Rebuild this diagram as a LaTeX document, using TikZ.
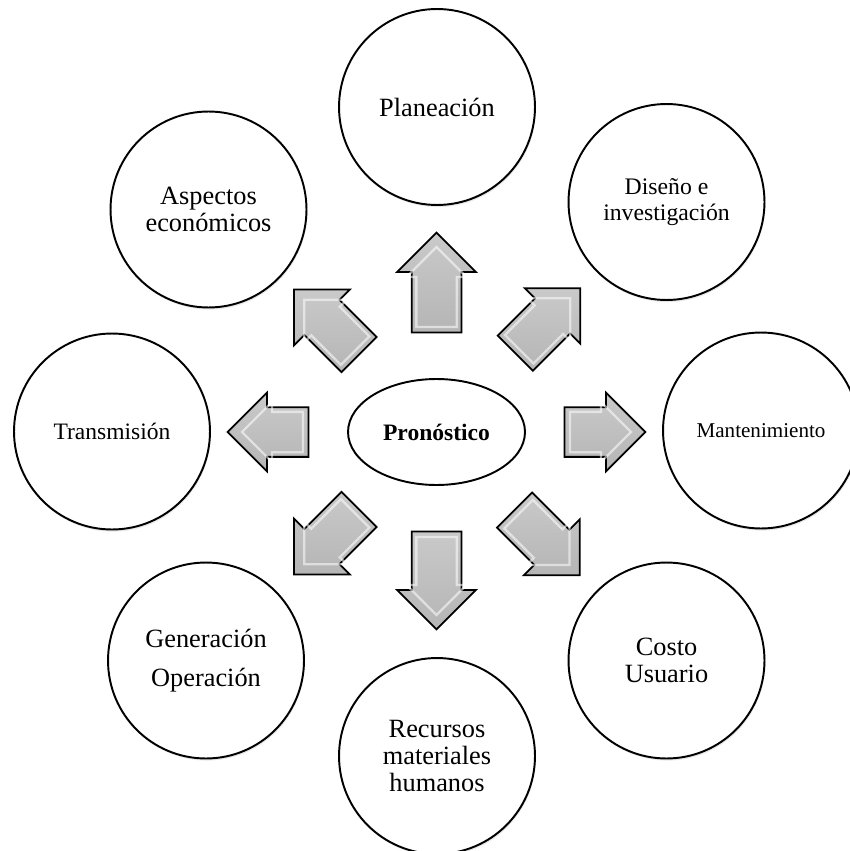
\documentclass[tikz,border=0pt]{standalone}
\usepackage{fontspec}
\setmainfont{Liberation Serif}
\usepackage{tikz}
\usetikzlibrary{shapes, calc, shadows}

\tikzset{
  tema/.style={circle, draw, line width=1.1pt, fill=white, minimum size=3.92cm,
    inner sep=0pt, align=center, font=\fontsize{15}{15.5}\selectfont,
    drop shadow={opacity=0.18, shadow xshift=0.5pt, shadow yshift=-1.2pt}},
  flecha/.style={single arrow, draw, line width=1pt, single arrow head extend=0.29cm,
    minimum width=1.54cm, inner xsep=0pt, inner ysep=0.48cm,
    top color=gray!42, bottom color=gray!58},
  brillo/.style={single arrow, draw=white, draw opacity=0.55, line width=1.3pt,
    single arrow head extend=0.2cm, minimum width=1.16cm, inner xsep=0pt,
    inner ysep=0.38cm}
}

\begin{document}
\begin{tikzpicture}[x=0.02cm, y=0.02cm]
  \useasboundingbox (0,0) rectangle (849,-851);
  % centro
  \node[ellipse, draw, line width=1.1pt, minimum width=3.54cm, minimum height=2.12cm,
    inner sep=0pt, font=\bfseries\fontsize{13.4}{15}\selectfont] (pron) at (436.5,-432) {Pronóstico};
  % temas alrededor
  \node[tema] (plan) at (437,-107) {Planeación};
  \node[tema, font=\fontsize{13.5}{14.7}\selectfont] (disen) at (666.5,-202) {Diseño e\\investigación};
  \node[tema, font=\fontsize{12}{14}\selectfont] (mant) at (761,-430.5) {Mantenimiento};
  \node[tema] (costo) at (666.5,-660.5) {Costo\\Usuario};
  \node[tema] (recur) at (437,-756) {Recursos\\materiales\\humanos};
  \node[tema] (gener) at (206,-660.5) {Generación\\[7pt]Operación};
  \node[tema, font=\fontsize{13.4}{15}\selectfont] (trans) at (112,-431.5) {Transmisión};
  \node[tema] (aspec) at (208.5,-209.5) {Aspectos\\económicos};
  % flechas
  \foreach \ang/\dist/\len/\nom in {90/137/2/fN, -90/136/1.96/fS, 180/156/1.62/fO, 0/156/1.62/fE,
      135/143/1.84/fNO, 45/145/1.84/fNE, -135/143/1.84/fSO, -45/144/1.84/fSE} {
    \node[flecha, minimum height=\len cm, rotate=\ang] (\nom) at ($(pron)+(\ang:\dist)$) {};
    \node[brillo, minimum height=\len cm-0.4cm, rotate=\ang] (\nom b) at ($(pron)+(\ang:\dist-2)$) {};
  }
\end{tikzpicture}
\end{document}
